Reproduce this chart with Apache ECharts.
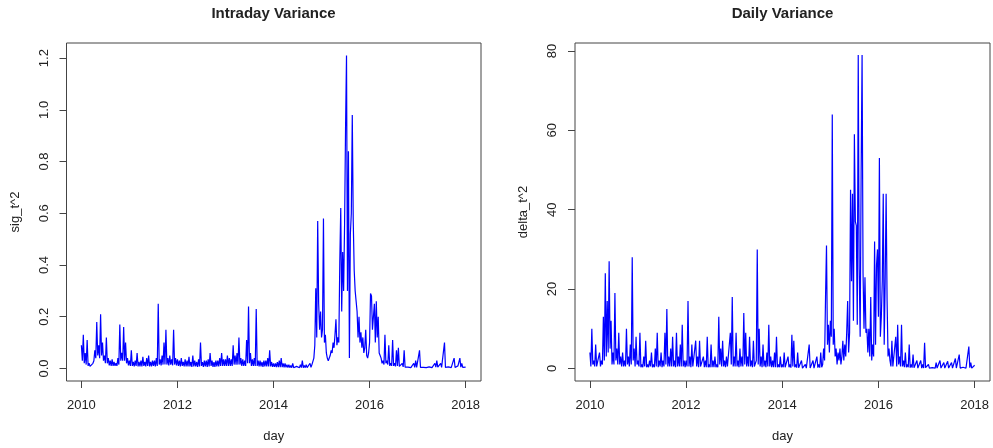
<!DOCTYPE html>
<html>
<head>
<meta charset="utf-8">
<script src="https://cdn.jsdelivr.net/npm/echarts@6.0.0/dist/echarts.min.js"></script>
<style>
  html, body { margin: 0; padding: 0; background: #fff; }
  #chart { width: 993px; height: 448px; }
</style>
</head>
<body>
<div id="chart"></div>
<script>
// decimal year of each sample
const day = [
  2010.00, 2010.02, 2010.04, 2010.06, 2010.08, 2010.10, 2010.12, 2010.14, 2010.16, 2010.18, 2010.20, 2010.22, 2010.24, 2010.26, 2010.28, 2010.30, 2010.32, 2010.34, 2010.36, 2010.38, 2010.40, 2010.42, 2010.44, 2010.46, 2010.48,
  2010.50, 2010.52, 2010.54, 2010.56, 2010.58, 2010.60, 2010.62, 2010.64, 2010.66, 2010.68, 2010.70, 2010.72, 2010.74, 2010.76, 2010.78, 2010.80, 2010.82, 2010.84, 2010.86, 2010.88, 2010.90, 2010.92, 2010.94, 2010.96, 2010.98,
  2011.00, 2011.02, 2011.04, 2011.06, 2011.08, 2011.10, 2011.12, 2011.14, 2011.16, 2011.18, 2011.20, 2011.22, 2011.24, 2011.26, 2011.28, 2011.30, 2011.32, 2011.34, 2011.36, 2011.38, 2011.40, 2011.42, 2011.44, 2011.46, 2011.48,
  2011.50, 2011.52, 2011.54, 2011.56, 2011.58, 2011.60, 2011.62, 2011.64, 2011.66, 2011.68, 2011.70, 2011.72, 2011.74, 2011.76, 2011.78, 2011.80, 2011.82, 2011.84, 2011.86, 2011.88, 2011.90, 2011.92, 2011.94, 2011.96, 2011.98,
  2012.00, 2012.02, 2012.04, 2012.06, 2012.08, 2012.10, 2012.12, 2012.14, 2012.16, 2012.18, 2012.20, 2012.22, 2012.24, 2012.26, 2012.28, 2012.30, 2012.32, 2012.34, 2012.36, 2012.38, 2012.40, 2012.42, 2012.44, 2012.46, 2012.48,
  2012.50, 2012.52, 2012.54, 2012.56, 2012.58, 2012.60, 2012.62, 2012.64, 2012.66, 2012.68, 2012.70, 2012.72, 2012.74, 2012.76, 2012.78, 2012.80, 2012.82, 2012.84, 2012.86, 2012.88, 2012.90, 2012.92, 2012.94, 2012.96, 2012.98,
  2013.00, 2013.02, 2013.04, 2013.06, 2013.08, 2013.10, 2013.12, 2013.14, 2013.16, 2013.18, 2013.20, 2013.22, 2013.24, 2013.26, 2013.28, 2013.30, 2013.32, 2013.34, 2013.36, 2013.38, 2013.40, 2013.42, 2013.44, 2013.46, 2013.48,
  2013.50, 2013.52, 2013.54, 2013.56, 2013.58, 2013.60, 2013.62, 2013.64, 2013.66, 2013.68, 2013.70, 2013.72, 2013.74, 2013.76, 2013.78, 2013.80, 2013.82, 2013.84, 2013.86, 2013.88, 2013.90, 2013.92, 2013.94, 2013.96, 2013.98,
  2014.00, 2014.02, 2014.04, 2014.06, 2014.08, 2014.10, 2014.12, 2014.14, 2014.16, 2014.18, 2014.20, 2014.22, 2014.24, 2014.26, 2014.28, 2014.30, 2014.32, 2014.34, 2014.36, 2014.38, 2014.40, 2014.42, 2014.44, 2014.46, 2014.48,
  2014.50, 2014.52, 2014.54, 2014.56, 2014.58, 2014.60, 2014.62, 2014.64, 2014.66, 2014.68, 2014.70, 2014.72, 2014.74, 2014.76, 2014.78, 2014.80, 2014.82, 2014.84, 2014.86, 2014.88, 2014.90, 2014.92, 2014.94, 2014.96, 2014.98,
  2015.00, 2015.02, 2015.04, 2015.06, 2015.08, 2015.10, 2015.12, 2015.14, 2015.16, 2015.18, 2015.20, 2015.22, 2015.24, 2015.26, 2015.28, 2015.30, 2015.32, 2015.34, 2015.36, 2015.38, 2015.40, 2015.42, 2015.44, 2015.46, 2015.48,
  2015.50, 2015.52, 2015.54, 2015.56, 2015.58, 2015.60, 2015.62, 2015.64, 2015.66, 2015.68, 2015.70, 2015.72, 2015.74, 2015.76, 2015.78, 2015.80, 2015.82, 2015.84, 2015.86, 2015.88, 2015.90, 2015.92, 2015.94, 2015.96, 2015.98,
  2016.00, 2016.02, 2016.04, 2016.06, 2016.08, 2016.10, 2016.12, 2016.14, 2016.16, 2016.18, 2016.20, 2016.22, 2016.24, 2016.26, 2016.28, 2016.30, 2016.32, 2016.34, 2016.36, 2016.38, 2016.40, 2016.42, 2016.44, 2016.46, 2016.48,
  2016.50, 2016.52, 2016.54, 2016.56, 2016.58, 2016.60, 2016.62, 2016.64, 2016.66, 2016.68, 2016.70, 2016.72, 2016.74, 2016.76, 2016.78, 2016.80, 2016.82, 2016.84, 2016.86, 2016.88, 2016.90, 2016.92, 2016.94, 2016.96, 2016.98,
  2017.00, 2017.02, 2017.04, 2017.06, 2017.08, 2017.10, 2017.12, 2017.14, 2017.16, 2017.18, 2017.20, 2017.22, 2017.24, 2017.26, 2017.28, 2017.30, 2017.32, 2017.34, 2017.36, 2017.38, 2017.40, 2017.42, 2017.44, 2017.46, 2017.48,
  2017.50, 2017.52, 2017.54, 2017.56, 2017.58, 2017.60, 2017.62, 2017.64, 2017.66, 2017.68, 2017.70, 2017.72, 2017.74, 2017.76, 2017.78, 2017.80, 2017.82, 2017.84, 2017.86, 2017.88, 2017.90, 2017.92, 2017.94, 2017.96, 2017.98,
  2018.00
];

// intraday variance sig_t^2
const sig2 = [
  0.09, 0.03, 0.13, 0.02, 0.06, 0.015, 0.11, 0.01, 0.02, 0.008, 0.015, 0.006, 0.02, 0.03, 0.07, 0.04, 0.18, 0.05, 0.09, 0.04, 0.21, 0.05, 0.10, 0.03, 0.05,
  0.02, 0.12, 0.02, 0.04, 0.012, 0.03, 0.01, 0.035, 0.01, 0.025, 0.01, 0.02, 0.01, 0.04, 0.015, 0.17, 0.03, 0.06, 0.03, 0.16, 0.03, 0.10, 0.02, 0.04, 0.012,
  0.03, 0.01, 0.07, 0.01, 0.025, 0.008, 0.03, 0.01, 0.06, 0.008, 0.025, 0.008, 0.03, 0.008, 0.045, 0.01, 0.025, 0.008, 0.04, 0.01, 0.05, 0.008, 0.025, 0.008, 0.03,
  0.01, 0.03, 0.008, 0.04, 0.01, 0.25, 0.015, 0.035, 0.012, 0.05, 0.015, 0.10, 0.015, 0.15, 0.015, 0.04, 0.012, 0.05, 0.015, 0.035, 0.012, 0.15, 0.015, 0.04, 0.012,
  0.035, 0.01, 0.03, 0.008, 0.04, 0.01, 0.025, 0.008, 0.035, 0.008, 0.03, 0.008, 0.045, 0.008, 0.025, 0.006, 0.05, 0.008, 0.03, 0.008, 0.025, 0.006, 0.035, 0.008, 0.10,
  0.01, 0.025, 0.006, 0.03, 0.008, 0.03, 0.006, 0.035, 0.008, 0.06, 0.01, 0.03, 0.006, 0.025, 0.006, 0.03, 0.008, 0.03, 0.008, 0.04, 0.01, 0.06, 0.01, 0.035, 0.01,
  0.035, 0.01, 0.05, 0.01, 0.04, 0.01, 0.035, 0.01, 0.09, 0.015, 0.05, 0.015, 0.06, 0.015, 0.12, 0.015, 0.04, 0.01, 0.035, 0.01, 0.03, 0.01, 0.11, 0.02, 0.24,
  0.02, 0.06, 0.01, 0.035, 0.01, 0.04, 0.01, 0.23, 0.01, 0.03, 0.008, 0.03, 0.008, 0.025, 0.006, 0.03, 0.008, 0.03, 0.008, 0.04, 0.008, 0.07, 0.008, 0.025, 0.006,
  0.02, 0.006, 0.02, 0.005, 0.025, 0.005, 0.03, 0.005, 0.04, 0.005, 0.02, 0.004, 0.02, 0.004, 0.015, 0.003, 0.015, 0.003, 0.012, 0.003, 0.02, 0.003, 0.01, 0.003, 0.008,
  0.003, 0.01, 0.003, 0.015, 0.003, 0.03, 0.003, 0.012, 0.003, 0.015, 0.003, 0.01, 0.003, 0.02, 0.004, 0.015, 0.008, 0.04, 0.09, 0.31, 0.12, 0.57, 0.25, 0.15, 0.22,
  0.12, 0.15, 0.58, 0.10, 0.13, 0.06, 0.04, 0.03, 0.025, 0.05, 0.07, 0.06, 0.10, 0.08, 0.13, 0.19, 0.09, 0.12, 0.10, 0.41, 0.62, 0.22, 0.45, 0.30, 0.56,
  0.93, 1.21, 0.30, 0.84, 0.04, 0.52, 0.60, 0.98, 0.57, 0.38, 0.30, 0.26, 0.22, 0.12, 0.20, 0.10, 0.14, 0.08, 0.12, 0.06, 0.08, 0.15, 0.05, 0.04, 0.06,
  0.10, 0.29, 0.28, 0.15, 0.20, 0.25, 0.10, 0.26, 0.12, 0.20, 0.06, 0.05, 0.04, 0.02, 0.03, 0.015, 0.13, 0.02, 0.03, 0.015, 0.09, 0.01, 0.02, 0.01, 0.11,
  0.01, 0.02, 0.008, 0.07, 0.01, 0.08, 0.008, 0.015, 0.006, 0.02, 0.006, 0.07, 0.005, 0.01, 0.004, 0.005, 0.003, 0.008, 0.003, 0.005, 0.003, 0.02, 0.004, 0.03, 0.004,
  0.01, 0.004, 0.07, 0.004, 0.005, 0.003, 0.004, 0.003, 0.005, 0.003, 0.004, 0.003, 0.006, 0.003, 0.005, 0.003, 0.01, 0.004, 0.02, 0.005, 0.03, 0.005, 0.01, 0.005, 0.02,
  0.004, 0.006, 0.004, 0.10, 0.004, 0.01, 0.004, 0.006, 0.003, 0.005, 0.003, 0.008, 0.003, 0.04, 0.004, 0.005, 0.003, 0.01, 0.004, 0.04, 0.005, 0.02, 0.004, 0.008, 0.003,
  0.005
];

// daily variance delta_t^2
const delta2 = [
  4, 0.5, 10, 1, 2, 0.5, 6, 0.5, 1, 0.3, 4, 0.5, 2, 1, 13, 2, 24, 3, 17, 4, 27, 5, 12, 1, 4,
  1, 19, 2, 5, 1, 9, 1, 3, 0.5, 4, 0.5, 2, 0.5, 10, 1, 3, 0.5, 6, 1, 28, 2, 5, 0.5, 8, 1,
  2, 0.5, 9, 0.3, 1, 0.3, 3, 0.5, 7, 0.3, 1, 0.3, 2, 0.5, 4, 0.3, 1, 0.3, 5, 0.5, 9, 0.3, 2, 0.5, 4,
  0.3, 2, 0.5, 9, 1, 15, 0.5, 3, 0.5, 5, 0.5, 8, 0.5, 2, 0.3, 9, 0.5, 3, 0.5, 6, 0.5, 11, 0.5, 2, 0.3,
  2, 0.5, 17, 0.5, 3, 0.3, 6, 0.5, 1, 0.3, 7, 0.5, 3, 0.3, 7, 0.5, 1, 0.3, 3, 0.3, 2, 0.3, 8, 0.3, 1,
  0.3, 6, 0.3, 2, 0.3, 3, 0.3, 1, 0.3, 13, 1, 5, 0.5, 7, 0.5, 2, 0.3, 3, 0.5, 1, 0.3, 9, 1, 18, 0.5,
  3, 0.5, 9, 0.5, 2, 0.3, 5, 0.5, 3, 0.5, 14, 1, 9, 0.5, 3, 0.5, 8, 0.5, 2, 0.3, 7, 0.5, 1, 2, 30,
  1, 10, 0.5, 3, 0.3, 6, 0.5, 2, 0.3, 4, 0.5, 11, 0.5, 3, 0.3, 2, 0.3, 4, 0.3, 8, 0.3, 1, 0.3, 3, 0.3,
  1, 0.3, 4, 0.3, 0.5, 0.2, 3, 0.3, 1, 0.2, 8.5, 0.5, 7, 0.3, 1, 0.2, 4, 0.2, 0.5, 0.1, 2, 0.1, 0.3, 0.1, 1,
  0.1, 0.5, 0.1, 6, 0.1, 0.5, 0.1, 2, 0.1, 0.3, 0.1, 3, 0.2, 1, 0.2, 4, 0.3, 1, 5, 2, 18, 31, 6, 11, 4,
  12, 8, 64, 6, 10, 3, 5, 1, 4, 2, 5, 1, 3, 7, 2, 6, 3, 9, 17, 4, 9, 45, 22, 44, 12,
  59, 37, 36, 11, 79, 25, 8, 49, 79, 24, 10, 23, 9, 10, 4, 10, 3, 18, 2, 6, 3, 32, 6, 26, 30,
  13, 53, 8, 13, 22, 44, 6, 22, 44, 17, 3, 5, 2, 0.5, 7, 0.5, 1, 0.3, 8, 0.5, 11, 1, 3, 0.5, 11,
  0.5, 2, 0.3, 4, 0.3, 1, 0.3, 6, 0.2, 1, 0.2, 3.5, 0.2, 0.5, 0.1, 2, 0.1, 0.5, 0.1, 2, 0.1, 1, 0.1, 6.5, 0.2,
  0.5, 0.1, 1, 0.1, 0.3, 0.05, 0.2, 0.05, 0.5, 0.1, 1.5, 0.1, 0.3, 0.05, 2, 0.1, 0.3, 0.05, 1.5, 0.1, 0.3, 0.05, 1.8, 0.1, 0.3,
  0.05, 1.5, 0.1, 0.2, 0.05, 2.5, 0.1, 0.3, 0.1, 3.5, 0.1, 0.2, 0.05, 0.3, 0.05, 0.2, 0.05, 0.4, 0.1, 5.5, 0.2, 1.5, 0.1, 0.3, 0.1,
  0.8
];

const xTicks = [2010, 2012, 2014, 2016, 2018];
const sigTicks = [0, 0.2, 0.4, 0.6, 0.8, 1.0, 1.2];
const deltaTicks = [0, 20, 40, 60, 80];

const font = 'Liberation Sans, Arial, sans-serif';
const ink = '#222';
const frame = '#444';

function xAxisFor(gridIndex) {
  return {
    type: 'value',
    gridIndex: gridIndex,
    min: 2009.69,
    max: 2018.32,
    name: 'day',
    nameLocation: 'middle',
    nameGap: 49,
    nameTextStyle: { fontFamily: font, fontSize: 13, color: ink },
    axisLine: { show: false, onZero: false },
    axisTick: { show: true, length: 7, customValues: xTicks, lineStyle: { color: frame } },
    axisLabel: { customValues: xTicks, margin: 18, fontFamily: font, fontSize: 13, color: ink, formatter: v => String(v) },
    splitLine: { show: false }
  };
}

function yAxisFor(gridIndex, name, min, max, ticks, fmt) {
  return {
    type: 'value',
    gridIndex: gridIndex,
    min: min,
    max: max,
    name: name,
    nameLocation: 'middle',
    nameGap: 45,
    nameTextStyle: { fontFamily: font, fontSize: 13, color: ink },
    axisLine: { show: false, onZero: false },
    axisTick: { show: true, length: 7, customValues: ticks, lineStyle: { color: frame } },
    axisLabel: { customValues: ticks, rotate: 90, margin: 16, fontFamily: font, fontSize: 13, color: ink, formatter: fmt },
    splitLine: { show: false }
  };
}

const chart = echarts.init(document.getElementById('chart'), null, { renderer: 'canvas' });
chart.setOption({
  animation: false,
  backgroundColor: '#fff',
  title: [
    { text: 'Intraday Variance', left: 273.5, top: 6, textAlign: 'center', padding: 0,
      textStyle: { fontFamily: font, fontSize: 15, fontWeight: 'bold', color: ink } },
    { text: 'Daily Variance', left: 782.5, top: 6, textAlign: 'center', padding: 0,
      textStyle: { fontFamily: font, fontSize: 15, fontWeight: 'bold', color: ink } }
  ],
  grid: [
    { left: 66.5, top: 43, width: 414.5, height: 339, show: true, borderColor: frame, borderWidth: 1 },
    { left: 575, top: 43, width: 415, height: 339, show: true, borderColor: frame, borderWidth: 1 }
  ],
  xAxis: [xAxisFor(0), xAxisFor(1)],
  yAxis: [
    yAxisFor(0, 'sig_t^2', -0.0485, 1.2585, sigTicks, v => v.toFixed(1)),
    yAxisFor(1, 'delta_t^2', -3.16, 82.0, deltaTicks, v => String(v))
  ],
  series: [
    { type: 'line', xAxisIndex: 0, yAxisIndex: 0, showSymbol: false,
      lineStyle: { color: '#0000ff', width: 1.2 },
      data: day.map((d, i) => [d, sig2[i]]) },
    { type: 'line', xAxisIndex: 1, yAxisIndex: 1, showSymbol: false,
      lineStyle: { color: '#0000ff', width: 1.2 },
      data: day.map((d, i) => [d, delta2[i]]) }
  ]
});
</script>
</body>
</html>
